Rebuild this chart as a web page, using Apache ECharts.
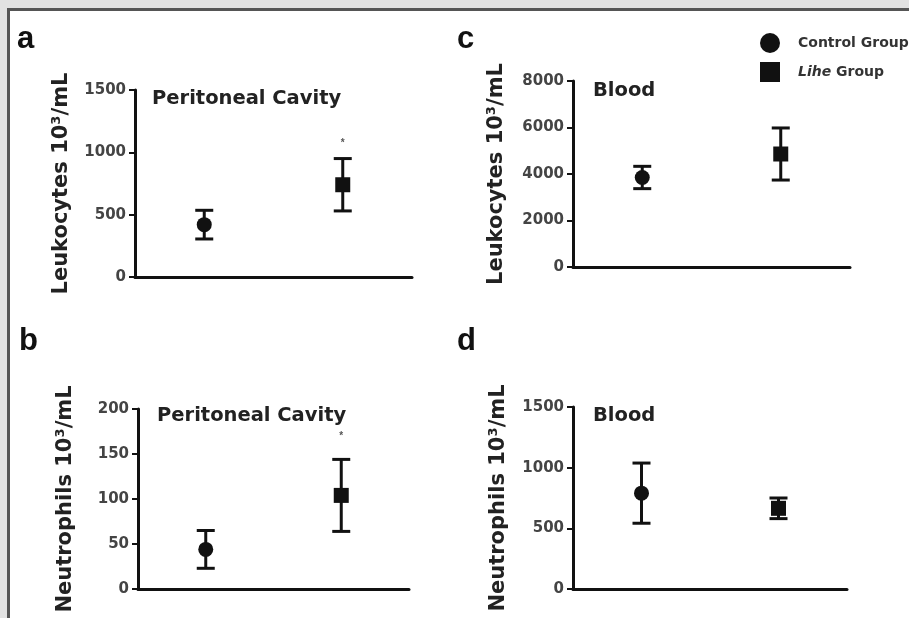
<!DOCTYPE html>
<html>
<head>
<meta charset="utf-8">
<script src="https://cdn.jsdelivr.net/npm/echarts@6/dist/echarts.min.js"></script>
<style>
  html, body { margin: 0; padding: 0; }
  #chart { width: 909px; height: 618px; }
</style>
</head>
<body>
<div id="chart"></div>
<script>
// panels in order a, b, c, d
const panelLetters = ['a', 'b', 'c', 'd']
const panelTitles = ['Peritoneal Cavity', 'Peritoneal Cavity', 'Blood', 'Blood']
const yAxisNames = ['Leukocytes 10³/mL', 'Neutrophils 10³/mL', 'Leukocytes 10³/mL', 'Neutrophils 10³/mL']
const yMax = [1500, 200, 8000, 1500]
const yInterval = [500, 50, 2000, 500]
const groups = ['Control Group', 'Lihe Group']

const controlMean = [420, 44, 3850, 790]
const controlErr = [115, 21, 480, 248]
const liheMean = [740, 104, 4860, 665]
const liheErr = [210, 40, 1120, 85]
// significance marks above the Lihe group (null = none)
const sigMark = [1075, 170, null, null]

// layout
const grids = [
  { left: 135, top: 90, width: 277, height: 187 },
  { left: 138, top: 409, width: 271, height: 180 },
  { left: 573, top: 81, width: 277, height: 186 },
  { left: 573, top: 407, width: 274, height: 182 }
]
const nameGaps = [63, 62, 66, 64]
const letterPos = [[17, 24], [19, 326], [457, 24], [457, 326]]
const titlePos = [[152, 89], [157, 406], [593, 81], [593, 406]]

const chart = echarts.init(document.getElementById('chart'))

const axisColor = '#111'
const wideFont = 'DejaVu Sans, Verdana, sans-serif'
const letterFont = 'Liberation Sans, Arial, sans-serif'

const xAxis = grids.map((g, i) => ({
  type: 'category',
  gridIndex: i,
  data: groups,
  boundaryGap: true,
  axisLine: { lineStyle: { color: axisColor, width: 3 } },
  axisTick: { show: false },
  axisLabel: { show: false },
  splitLine: { show: false }
}))

const yAxis = grids.map((g, i) => ({
  type: 'value',
  gridIndex: i,
  min: 0,
  max: yMax[i],
  interval: yInterval[i],
  name: yAxisNames[i],
  nameLocation: 'middle',
  nameRotate: 90,
  nameGap: nameGaps[i],
  nameTextStyle: { fontSize: 21, fontWeight: 'bold', color: '#222', fontFamily: wideFont },
  axisLine: { show: true, lineStyle: { color: axisColor, width: 3 } },
  axisTick: { show: true, length: 6, lineStyle: { color: axisColor, width: 2 } },
  axisLabel: {
    fontSize: 15, fontWeight: 'bold', color: '#444', margin: 9, fontFamily: wideFont,
    formatter: v => String(v)
  },
  splitLine: { show: false }
}))

const series = []
grids.forEach((g, i) => {
  // error bars (mean ± error)
  series.push({
    type: 'custom',
    xAxisIndex: i,
    yAxisIndex: i,
    silent: true,
    z: 3,
    data: [
      [0, controlMean[i] - controlErr[i], controlMean[i] + controlErr[i]],
      [1, liheMean[i] - liheErr[i], liheMean[i] + liheErr[i]]
    ],
    renderItem (params, api) {
      const lo = api.coord([api.value(0), api.value(1)])
      const hi = api.coord([api.value(0), api.value(2)])
      const half = 9
      const style = { stroke: '#111', lineWidth: 3 }
      return {
        type: 'group',
        children: [
          { type: 'line', shape: { x1: lo[0], y1: lo[1], x2: hi[0], y2: hi[1] }, style },
          { type: 'line', shape: { x1: lo[0] - half, y1: lo[1], x2: lo[0] + half, y2: lo[1] }, style },
          { type: 'line', shape: { x1: hi[0] - half, y1: hi[1], x2: hi[0] + half, y2: hi[1] }, style }
        ]
      }
    }
  })
  series.push({
    name: groups[0],
    type: 'scatter',
    xAxisIndex: i,
    yAxisIndex: i,
    symbol: 'circle',
    symbolSize: 15,
    itemStyle: { color: '#111', opacity: 1 },
    z: 4,
    data: [[0, controlMean[i]]]
  })
  series.push({
    name: groups[1],
    type: 'scatter',
    xAxisIndex: i,
    yAxisIndex: i,
    symbol: 'rect',
    symbolSize: 15,
    itemStyle: { color: '#111', opacity: 1 },
    z: 4,
    data: [[1, liheMean[i]]]
  })
  if (sigMark[i] !== null) {
    series.push({
      type: 'custom',
      xAxisIndex: i,
      yAxisIndex: i,
      silent: true,
      data: [[1, sigMark[i]]],
      renderItem (params, api) {
        const p = api.coord([api.value(0), api.value(1)])
        return {
          type: 'text',
          style: {
            text: '*', x: p[0], y: p[1], fill: '#555',
            font: 'bold 10px ' + letterFont, align: 'center', verticalAlign: 'middle'
          }
        }
      }
    })
  }
})

const title = []
panelLetters.forEach((l, i) => {
  title.push({
    text: l, left: letterPos[i][0], top: letterPos[i][1], padding: 0,
    textStyle: { fontSize: 31, fontWeight: 'bold', color: '#111', fontFamily: letterFont }
  })
  title.push({
    text: panelTitles[i], left: titlePos[i][0], top: titlePos[i][1], padding: 0,
    textStyle: { fontSize: 19.5, fontWeight: 'bold', color: '#222', fontFamily: wideFont }
  })
})

chart.setOption({
  backgroundColor: '#e2e2e2',
  animation: false,
  graphic: [
    { type: 'rect', z: -10, shape: { x: 7, y: 8, width: 902, height: 610 }, style: { fill: '#555' } },
    { type: 'rect', z: -9, shape: { x: 10, y: 11, width: 899, height: 607 }, style: { fill: '#fff' } }
  ],
  title,
  legend: {
    orient: 'vertical',
    left: 760,
    top: 33,
    itemWidth: 20,
    itemHeight: 20,
    itemGap: 9,
    padding: 0,
    data: [
      { name: groups[0], icon: 'circle' },
      { name: groups[1], icon: 'rect' }
    ],
    formatter (name) {
      return name === 'Lihe Group' ? '{i|Lihe} Group' : name
    },
    textStyle: {
      fontSize: 14, fontWeight: 'bold', color: '#333', fontFamily: wideFont,
      padding: [0, 0, 0, 13],
      rich: { i: { fontStyle: 'italic', fontSize: 14, fontWeight: 'bold', color: '#333', fontFamily: wideFont } }
    }
  },
  grid: grids,
  xAxis,
  yAxis,
  series
})
</script>
</body>
</html>
